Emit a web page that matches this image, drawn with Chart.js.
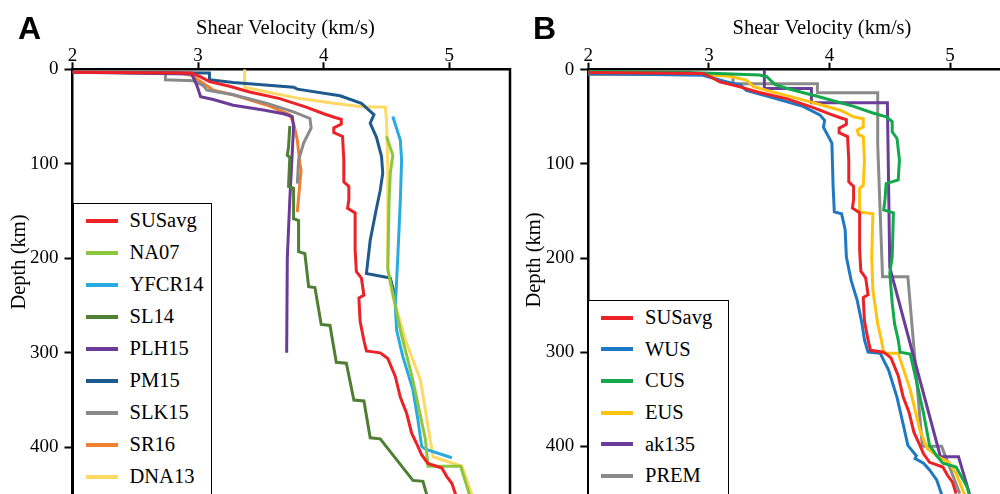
<!DOCTYPE html>
<html>
<head>
<meta charset="utf-8">
<script src="https://cdn.jsdelivr.net/npm/chart.js@4.4.1/dist/chart.umd.min.js"></script>
<style>
  html, body { margin: 0; padding: 0; background: #fff; overflow: hidden; }
  #wrap { position: relative; width: 1000px; height: 494px; overflow: hidden; }
  canvas { position: absolute; top: 0; }
  #chartA { left: 0; }
  #chartB { left: 520px; }
  .legend {
    position: absolute; background: #fff; border: 1.5px solid #000;
    font-family: 'Liberation Serif', serif; font-size: 20.5px; color: #000;
    height: 400px;
  }
  .legend .row { display: flex; align-items: center; }
  .legend .swatch { height: 4px; width: 32px; margin-right: 12px; }
  #legendA { left: 73px; top: 203px; width: 137px; padding-top: 0.5px; }
  #legendA .row { height: 32px; }
  #legendA .swatch { margin-left: 11.5px; }
  #legendB { left: 588px; top: 300px; width: 139px; padding-top: 0.7px; }
  #legendB .row { height: 31.7px; }
  #legendB .swatch { margin-left: 12px; }
</style>
</head>
<body>
<div id="wrap">
  <canvas id="chartA" width="520" height="494"></canvas>
  <canvas id="chartB" width="480" height="494"></canvas>
  <div class="legend" id="legendA"></div>
  <div class="legend" id="legendB"></div>
</div>
<script>
// tick labels
const velTicks = [2, 3, 4, 5];
const depthTicks = [0, 100, 200, 300, 400];
const xTitle = 'Shear Velocity (km/s)';
const yTitle = 'Depth (km)';

// SUSavg (both panels)
const susVs    = [2.00, 2.95, 3.02, 3.09, 3.25, 3.41, 3.65, 3.86, 4.00, 4.09, 4.14, 4.14, 4.08, 4.08, 4.15, 4.16, 4.16, 4.20, 4.20, 4.19, 4.25, 4.25, 4.26, 4.30, 4.32, 4.28, 4.29, 4.32, 4.34, 4.45, 4.51, 4.57, 4.61, 4.66, 4.70, 4.75, 4.78, 4.83, 4.94, 4.98, 5.02, 5.05];
const susDepth = [3, 4, 8, 13, 18, 24, 31, 40, 47, 51, 53, 58, 62, 67, 71, 96, 119, 124, 138, 147, 152, 191, 214, 221, 239, 242, 267, 287, 298, 300, 306, 325, 347, 364, 385, 399, 408, 417, 422, 431, 438, 450];

// panel A models
const naVs    = [4.50, 4.55, 4.53, 4.52, 4.51, 4.55, 4.61, 4.71, 4.81, 4.83, 5.09, 5.16];
const naDepth = [71, 91, 110, 140, 212, 237, 276, 329, 392, 420, 420, 450];

const yfVs    = [4.55, 4.61, 4.62, 4.61, 4.59, 4.57, 4.58, 4.63, 4.71, 4.75, 4.78, 4.81, 5.02];
const yfDepth = [50, 75, 96, 138, 198, 251, 276, 304, 339, 371, 399, 402, 411];

const slVs    = [3.73, 3.72, 3.71, 3.73, 3.72, 3.76, 3.76, 3.80, 3.80, 3.85, 3.88, 3.93, 3.98, 4.05, 4.10, 4.18, 4.24, 4.32, 4.37, 4.45, 4.71, 4.79, 4.82];
const slDepth = [60, 82, 91, 93, 124, 126, 158, 160, 193, 195, 230, 231, 270, 271, 310, 311, 350, 351, 390, 391, 435, 436, 450];

const plVs    = [2.00, 2.95, 2.99, 3.02, 3.12, 3.28, 3.52, 3.68, 3.75, 3.76, 3.73, 3.71, 3.705];
const plDepth = [3, 5, 17, 29, 32, 38, 43, 47, 50, 61, 138, 200, 300];

const pmVs    = [2.00, 3.09, 3.09, 3.28, 3.76, 3.79, 4.13, 4.30, 4.40, 4.37, 4.42, 4.46, 4.47, 4.45, 4.42, 4.37, 4.34, 4.53, 4.57];
const pmDepth = [3, 4, 11, 14, 19, 21, 28, 36, 48, 57, 72, 92, 110, 128, 147, 181, 216, 221, 241];

const skVs    = [2.00, 2.74, 2.74, 2.96, 3.04, 3.07, 3.28, 3.55, 3.76, 3.89, 3.90, 3.84, 3.80, 3.79];
const skDepth = [3, 4, 11, 12, 17, 22, 27, 36, 45, 52, 62, 78, 96, 121];

const srVs    = [2.00, 2.85, 2.94, 3.02, 3.12, 3.28, 3.55, 3.73, 3.76, 3.79, 3.81, 3.82, 3.81, 3.79];
const srDepth = [3, 4, 6, 13, 22, 27, 38, 48, 57, 75, 100, 107, 121, 151];

const dnVs    = [3.37, 3.37, 3.55, 3.81, 4.08, 4.32, 4.49, 4.50, 4.51, 4.51, 4.55, 4.66, 4.77, 4.87, 5.10, 5.18];
const dnDepth = [0, 19, 24, 31, 36, 40, 40, 54, 103, 210, 240, 290, 329, 410, 420, 450];

// panel B models
const wuVs    = [2.00, 2.95, 2.98, 3.15, 3.26, 3.31, 3.51, 3.78, 3.92, 3.96, 3.95, 4.02, 4.03, 4.04, 4.10, 4.13, 4.14, 4.18, 4.23, 4.27, 4.29, 4.32, 4.42, 4.49, 4.56, 4.61, 4.65, 4.72, 4.71, 4.78, 4.83, 4.89, 4.93];
const wuDepth = [4, 6, 7, 13, 16, 22, 29, 39, 48, 54, 61, 78, 124, 151, 153, 170, 199, 224, 245, 270, 287, 300, 301, 319, 348, 376, 399, 410, 413, 418, 425, 436, 451];

const cuVs    = [2.00, 2.84, 3.42, 3.48, 3.55, 3.65, 3.92, 4.20, 4.36, 4.47, 4.52, 4.52, 4.56, 4.58, 4.57, 4.47, 4.46, 4.45, 4.53, 4.52, 4.50, 4.52, 4.54, 4.57, 4.585, 4.67, 4.72, 4.78, 4.83, 4.89, 4.94, 5.05, 5.14, 5.16];
const cuDepth = [2, 3, 5.6, 7.4, 16, 20, 29, 39, 46, 50, 55, 66, 73, 96, 117, 121, 138, 149, 152, 199, 216, 248, 270, 287, 300, 302, 330, 365, 399, 410, 418, 422, 443, 451];

const euVs    = [2.00, 2.95, 3.17, 3.31, 3.37, 3.48, 3.78, 4.09, 4.20, 4.28, 4.28, 4.23, 4.24, 4.28, 4.29, 4.28, 4.25, 4.25, 4.36, 4.35, 4.36, 4.40, 4.43, 4.45, 4.57, 4.67, 4.75, 4.81, 4.90, 4.99, 5.05, 5.12];
const euDepth = [3, 5, 7, 11, 18, 22, 32, 43, 50, 52, 61, 64, 69, 71, 96, 123, 126, 151, 153, 199, 234, 270, 287, 301, 301, 340, 383, 402, 411, 417, 429, 451];

const akVs    = [3.46, 3.46, 3.85, 3.85, 4.48, 4.49, 4.50, 4.92, 5.07, 5.16];
const akDepth = [0, 20, 20, 35, 35, 120, 210, 411, 411, 450];

const prVs    = [2.00, 3.20, 3.20, 3.90, 3.90, 4.40, 4.40, 4.44, 4.65, 4.77, 4.93, 5.08];
const prDepth = [5, 5, 15, 15, 24.4, 24.4, 80, 220, 220, 400, 400, 450];

const namesA  = ['SUSavg', 'NA07', 'YFCR14', 'SL14', 'PLH15', 'PM15', 'SLK15', 'SR16', 'DNA13'];
const colorsA = ['#ec2227', '#8cc63f', '#29abe2', '#4f7f33', '#6b3b97', '#1f5a8e', '#8a8a8a', '#f08030', '#ffd966'];
const vsA     = [susVs, naVs, yfVs, slVs, plVs, pmVs, skVs, srVs, dnVs];
const depthA  = [susDepth, naDepth, yfDepth, slDepth, plDepth, pmDepth, skDepth, srDepth, dnDepth];

const namesB  = ['SUSavg', 'WUS', 'CUS', 'EUS', 'ak135', 'PREM'];
const colorsB = ['#ec2227', '#1f78c4', '#12a84b', '#ffc20e', '#6a3d9a', '#8a8a8a'];
const vsB     = [susVs, wuVs, cuVs, euVs, akVs, prVs];
const depthB  = [susDepth, wuDepth, cuDepth, euDepth, akDepth, prDepth];

function toPoints(vs, depth) {
    return vs.map((v, i) => ({ x: v, y: depth[i] }));
}

function buildDatasets(names, colors, vs, depth) {
    return names.map((name, i) => ({
        label: name,
        data: toPoints(vs[i], depth[i]),
        showLine: true,
        borderColor: colors[i],
        backgroundColor: colors[i],
        borderWidth: 3,
        pointRadius: 0,
        tension: 0,
        fill: false
    }));
}

// Letter, axis titles and right frame line
const panelDecor = {
    id: 'panelDecor',
    afterDraw(chart, args, opts) {
        const ctx = chart.ctx;
        const area = chart.chartArea;
        ctx.save();
        if (opts.rightBorder) {
            ctx.strokeStyle = '#000';
            ctx.lineWidth = 2.5;
            ctx.beginPath();
            ctx.moveTo(area.right, area.top - 1.25);
            ctx.lineTo(area.right, chart.height);
            ctx.stroke();
        }
        ctx.fillStyle = '#000';
        ctx.textBaseline = 'alphabetic';
        ctx.font = 'bold 32px "Liberation Sans"';
        ctx.textAlign = 'left';
        ctx.fillText(opts.letter, opts.letterX, 38.5);
        ctx.font = '20.5px "Liberation Serif"';
        ctx.textAlign = 'center';
        ctx.fillText(xTitle, opts.titleX, 34);
        ctx.translate(opts.depthX, opts.depthY);
        ctx.rotate(-Math.PI / 2);
        ctx.fillText(yTitle, 0, 0);
        ctx.restore();
    }
};

function makeOptions(cfg) {
    return {
        responsive: false,
        animation: false,
        layout: { padding: { left: 0, right: cfg.padRight, top: 0, bottom: 0 } },
        plugins: {
            legend: { display: false },
            tooltip: { enabled: false },
            panelDecor: cfg.decor
        },
        scales: {
            x: {
                type: 'linear',
                position: 'top',
                min: 2,
                max: cfg.xMax,
                afterFit: s => {
                    s.height = cfg.top;
                    s.paddingLeft = 0;
                    s.paddingRight = 0;
                },
                afterBuildTicks: s => { s.ticks = velTicks.map(v => ({ value: v })); },
                ticks: { font: { family: 'Liberation Serif', size: 19 }, color: '#000', padding: -5, maxRotation: 0 },
                grid: { drawOnChartArea: false, tickLength: 7, tickWidth: 2, tickColor: '#000' },
                border: { display: true, color: '#000', width: 2.5 }
            },
            y: {
                type: 'linear',
                position: 'left',
                reverse: true,
                min: 0,
                max: cfg.yMax,
                afterFit: s => {
                    s.width = cfg.left;
                    s.paddingTop = 0;
                    s.paddingBottom = 0;
                },
                afterBuildTicks: s => { s.ticks = depthTicks.map(v => ({ value: v })); },
                ticks: { font: { family: 'Liberation Serif', size: 19 }, color: '#000', padding: 6 },
                grid: { drawOnChartArea: false, tickLength: 8, tickWidth: 2, tickColor: '#000' },
                border: { display: true, color: '#000', width: 2.5 }
            }
        }
    };
}

function buildLegend(id, names, colors) {
    const box = document.getElementById(id);
    names.forEach((name, i) => {
        const row = document.createElement('div');
        row.className = 'row';
        const sw = document.createElement('span');
        sw.className = 'swatch';
        sw.style.background = colors[i];
        const txt = document.createElement('span');
        txt.textContent = name;
        row.appendChild(sw);
        row.appendChild(txt);
        box.appendChild(row);
    });
}

const chartA = new Chart(document.getElementById('chartA').getContext('2d'), {
    type: 'scatter',
    data: { datasets: buildDatasets(namesA, colorsA, vsA, depthA) },
    options: makeOptions({
        left: 72.5, top: 69.3, padRight: 10, xMax: 5.483, yMax: 449.4,
        decor: { letter: 'A', letterX: 18, titleX: 285.5, depthX: 25, depthY: 262, rightBorder: true }
    }),
    plugins: [panelDecor]
});

const chartB = new Chart(document.getElementById('chartB').getContext('2d'), {
    type: 'scatter',
    data: { datasets: buildDatasets(namesB, colorsB, vsB, depthB) },
    options: makeOptions({
        left: 68.3, top: 69.7, padRight: 0, xMax: 5.414, yMax: 450.6,
        decor: { letter: 'B', letterX: 13, titleX: 302, depthX: 19.5, depthY: 260, rightBorder: false }
    }),
    plugins: [panelDecor]
});

buildLegend('legendA', namesA, colorsA);
buildLegend('legendB', namesB, colorsB);
</script>
</body>
</html>
